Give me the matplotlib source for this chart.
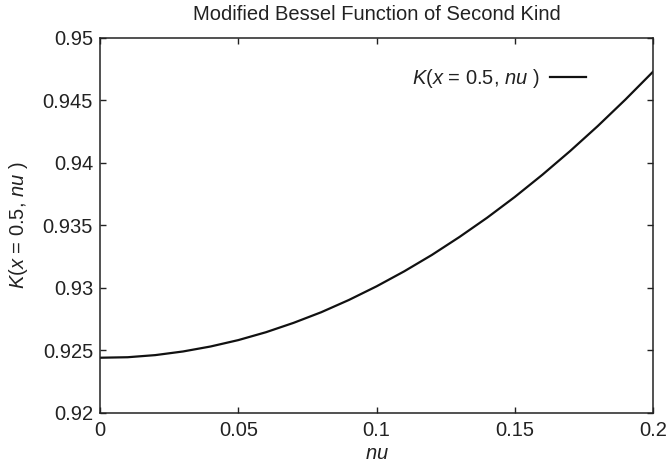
import matplotlib
matplotlib.use('Agg')
from matplotlib import pyplot as plt

# values
nu = [0.00, 0.01, 0.02, 0.03, 0.04, 0.05, 0.06, 0.07, 0.08, 0.09, 0.10,
      0.11, 0.12, 0.13, 0.14, 0.15, 0.16, 0.17, 0.18, 0.19, 0.20]
k_vals = [0.92442, 0.92446, 0.92463, 0.92492, 0.92532, 0.92583, 0.92646,
          0.92721, 0.92806, 0.92904, 0.93013, 0.93133, 0.93264, 0.93408,
          0.93562, 0.93728, 0.93906, 0.94095, 0.94295, 0.94507, 0.94730]

x_ticks = [0, 0.05, 0.1, 0.15, 0.2]
x_labels = ['0', '0.05', '0.1', '0.15', '0.2']
y_ticks = [0.92, 0.925, 0.93, 0.935, 0.94, 0.945, 0.95]
y_labels = ['0.92', '0.925', '0.93', '0.935', '0.94', '0.945', '0.95']

plt.rcParams['font.family'] = ['Liberation Sans', 'DejaVu Sans']
plt.rcParams['mathtext.fontset'] = 'custom'
plt.rcParams['mathtext.it'] = 'Liberation Sans:italic'
plt.rcParams['mathtext.rm'] = 'Liberation Sans'

txt_col = '#222222'
curve_label = r'$K$($x$ = 0.5, $nu$ )'

fig = plt.figure(figsize=(6.7, 4.7), dpi=100)
ax = fig.add_axes([0.1493, 0.1213, 0.8254, 0.798])

ax.plot(nu, k_vals, color='#111111', lw=1.6, label=curve_label)

ax.set_xlim(0, 0.2)
ax.set_ylim(0.92, 0.95)
ax.set_xticks(x_ticks)
ax.set_xticklabels(x_labels)
ax.set_yticks(y_ticks)
ax.set_yticklabels(y_labels)
ax.tick_params(direction='in', top=True, right=True, labelsize=14.5,
               length=4.5, width=1.0, colors='#222222')
ax.tick_params(axis='x', pad=6)
ax.tick_params(axis='y', pad=5)
for s in ax.spines.values():
    s.set_linewidth(1.1)
    s.set_color('#222222')

ax.set_xlabel(r'$nu$', fontsize=14.5, labelpad=3, color=txt_col)
ax.set_ylabel(curve_label, fontsize=14.5, labelpad=9, color=txt_col)
ax.set_title('Modified Bessel Function of Second Kind', fontsize=14.5,
             pad=13, color=txt_col)

leg = ax.legend(loc='upper right', frameon=False, fontsize=14.5, markerfirst=False,
                handlelength=1.8, handletextpad=0.5, borderaxespad=0.0,
                bbox_to_anchor=(0.894, 0.943))
for t in leg.get_texts():
    t.set_color(txt_col)

fig.savefig('out.png', dpi=100)
